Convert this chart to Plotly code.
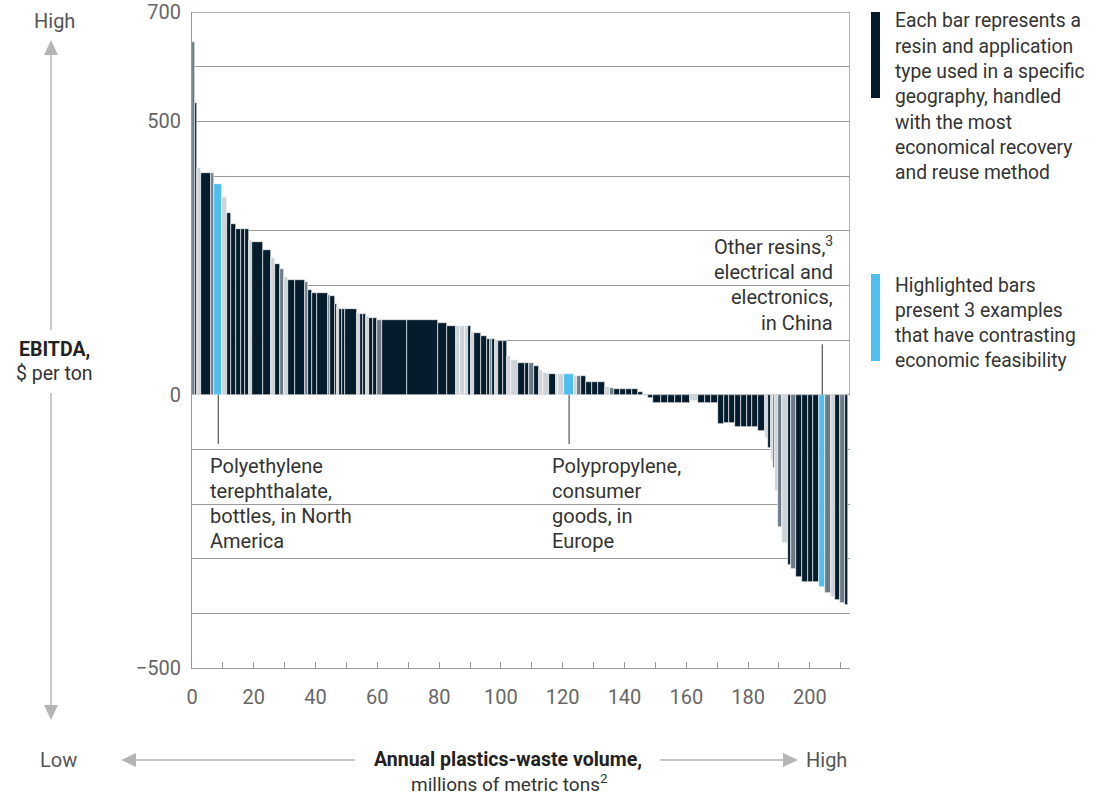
import numpy as np
import plotly.graph_objects as go

# Annual volume of each resin/application/geography segment, million metric tons
volume = [
    0.97, 0.65, 1.13, 3.40, 1.13, 2.43, 1.46, 1.55, 1.62, 1.36,
    1.36, 1.55, 0.97, 3.56, 2.52, 1.10, 1.88, 1.13, 1.29, 2.36,
    3.24, 1.04, 1.23, 1.62, 3.46, 0.81, 1.46, 0.81, 0.49, 1.04,
    0.91, 3.72, 1.04, 0.91, 1.13, 0.91, 1.29, 1.36, 1.46, 8.19,
    10.10, 2.91, 2.75, 1.46, 1.46, 1.13, 1.04, 0.91, 2.20, 1.84,
    0.97, 0.81, 0.97, 0.97, 1.46, 1.46, 1.13, 2.27, 2.27, 1.46,
    1.55, 1.52, 1.46, 1.94, 2.10, 0.81, 1.88, 3.40, 0.87, 1.29,
    1.62, 1.94, 1.94, 2.27, 1.62, 1.29, 1.94, 1.94, 1.94, 2.10,
    1.46, 1.62, 1.62, 2.59, 2.27, 2.27, 2.27, 2.59, 2.59, 2.27,
    1.94, 2.27, 1.94, 1.62, 1.94, 1.94, 1.78, 1.78, 1.84, 2.36,
    0.87, 1.07, 0.74, 0.55, 0.97, 1.20, 2.14, 0.87, 1.52, 2.14,
    1.84, 1.78, 1.94, 1.78, 1.94, 1.29, 1.62, 1.62, 0.97,
]

# EBITDA of each segment, $ per ton
ebitda = [
    645, 533, 414, 405, 405, 386, 362, 332, 312, 303,
    303, 303, 283, 279, 265, 250, 239, 230, 215, 210,
    210, 207, 192, 186, 186, 182, 180, 166, 160, 157,
    157, 157, 150, 147, 147, 143, 141, 141, 136, 136,
    136, 131, 126, 126, 126, 126, 126, 115, 113, 107,
    102, 102, 102, 100, 98, 98, 70, 63, 58, 58,
    58, 53, 45, 40, 38, 38, 38, 38, 34, 34,
    34, 24, 24, 24, 14, 12, 10, 10, 10, 10,
    4, -3, -6, -15, -15, -15, -15, -15, -12, -15,
    -15, -15, -53, -52, -52, -59, -59, -59, -59, -67,
    -80, -98, -120, -134, -177, -242, -272, -311, -318, -333,
    -342, -342, -342, -351, -363, -370, -375, -382, -385,
]

# Shade of each bar: d = dark, g = grey, l = light sliver, b = highlighted example
tone = [
    "g", "d", "l", "d", "g", "b", "l", "d", "d", "d",
    "d", "d", "l", "d", "d", "l", "d", "g", "l", "d",
    "d", "g", "d", "d", "d", "g", "d", "d", "l", "d",
    "d", "d", "l", "d", "d", "l", "d", "d", "g", "d",
    "d", "d", "d", "l", "l", "l", "d", "l", "d", "d",
    "d", "g", "d", "l", "d", "d", "l", "l", "d", "d",
    "g", "d", "l", "l", "d", "l", "l", "b", "l", "g",
    "d", "d", "d", "d", "l", "g", "d", "d", "d", "d",
    "d", "l", "d", "d", "d", "d", "d", "d", "l", "d",
    "d", "d", "d", "d", "d", "d", "d", "d", "d", "d",
    "l", "d", "l", "g", "l", "g", "l", "d", "g", "d",
    "d", "d", "d", "b", "g", "l", "d", "g", "d",
]

x_labels = list(range(0, 201, 20))
y_labels = [-500, 0, 500, 700]
y_label_text = ["\u2212500", "0", "500", "700"]

assert len(volume) == len(ebitda) == len(tone)

palette = {"d": "#051C2C", "g": "#6B7A86", "l": "#CDD3D8", "b": "#4FBFF0"}
DARK = "#051C2C"
BLUE = "#4FBFF0"
GRID = "#9A9A9A"
ARROW = "#B5B5B5"
FONT = "Roboto, Inter, sans-serif"

W, H = 1106, 795
L, R, T, B = 192, 850, 12, 668
X_MAX = 213


def px(xp):
    return (xp - L) / (R - L)


def py(yp):
    return (B - yp) / (B - T)


edges = np.concatenate([[0.0], np.cumsum(volume)])
centres = (edges[:-1] + edges[1:]) / 2
highlight = [c for c, t in zip(centres, tone) if t == "b"]

fig = go.Figure(
    go.Bar(
        x=centres,
        y=ebitda,
        width=volume,
        marker=dict(color=[palette[t] for t in tone], line=dict(color="white", width=0.6)),
        hoverinfo="skip",
    )
)

fig.update_layout(
    width=W,
    height=H,
    margin=dict(l=L, r=W - R, t=T, b=H - B, autoexpand=False),
    paper_bgcolor="white",
    plot_bgcolor="white",
    showlegend=False,
    bargap=0,
    font=dict(family=FONT, size=18, color="#333333"),
)

fig.update_xaxes(
    range=[0, X_MAX],
    automargin=False,
    tickvals=x_labels,
    ticktext=[str(v) for v in x_labels],
    ticks="inside",
    ticklen=6,
    tickcolor=GRID,
    minor=dict(dtick=10, tick0=0, ticks="inside", ticklen=6, tickcolor=GRID),
    showline=True,
    linecolor=GRID,
    linewidth=1,
    showgrid=False,
    zeroline=False,
    tickfont=dict(size=20, color="#666666"),
    ticklabelstandoff=11,
)
fig.update_yaxes(
    range=[-500, 700],
    automargin=False,
    tickvals=y_labels,
    ticktext=y_label_text,
    ticks="",
    showline=True,
    linecolor=GRID,
    linewidth=1,
    showgrid=True,
    gridcolor=GRID,
    gridwidth=1,
    minor=dict(dtick=100, tick0=0, showgrid=True, gridcolor=GRID, gridwidth=1, ticks=""),
    zeroline=True,
    zerolinecolor=GRID,
    zerolinewidth=1,
    tickfont=dict(size=20, color="#666666"),
    ticklabelstandoff=6,
)

shapes = []
# frame: top edge and right edge above zero
shapes.append(dict(type="line", xref="x", yref="y", x0=0, x1=X_MAX, y0=700, y1=700,
                   line=dict(color=GRID, width=1.5)))
shapes.append(dict(type="line", xref="x", yref="y", x0=X_MAX, x1=X_MAX, y0=0, y1=700,
                   line=dict(color=GRID, width=1.5)))

# callout leaders for highlighted bars
for c in highlight[:2]:
    shapes.append(dict(type="line", xref="x", yref="y", x0=c, x1=c, y0=0, y1=-90,
                       line=dict(color="#333333", width=1)))
shapes.append(dict(type="line", xref="x", yref="y", x0=highlight[2], x1=highlight[2], y0=0, y1=92,
                   line=dict(color="#333333", width=1)))

# legend swatches
shapes.append(dict(type="rect", xref="paper", yref="paper", x0=px(871), x1=px(880), y0=py(98), y1=py(12),
                   fillcolor=DARK, line=dict(width=0)))
shapes.append(dict(type="rect", xref="paper", yref="paper", x0=px(871), x1=px(880), y0=py(361), y1=py(274),
                   fillcolor=BLUE, line=dict(width=0)))

# vertical EBITDA arrow
shapes.append(dict(type="line", xref="paper", yref="paper", x0=px(51), x1=px(51), y0=py(55), y1=py(330),
                   line=dict(color=ARROW, width=1.5)))
shapes.append(dict(type="line", xref="paper", yref="paper", x0=px(51), x1=px(51), y0=py(393), y1=py(706),
                   line=dict(color=ARROW, width=1.5)))


def tri(points):
    path = "M " + " L ".join(f"{px(a)},{py(b)}" for a, b in points) + " Z"
    return dict(type="path", xref="paper", yref="paper", path=path, fillcolor=ARROW, line=dict(width=0))


shapes.append(tri([(51, 40), (44, 55), (58, 55)]))
shapes.append(tri([(51, 720), (44, 705), (58, 705)]))

# horizontal volume arrow
shapes.append(dict(type="line", xref="paper", yref="paper", x0=px(135), x1=px(355), y0=py(760), y1=py(760),
                   line=dict(color=ARROW, width=1.5)))
shapes.append(dict(type="line", xref="paper", yref="paper", x0=px(660), x1=px(785), y0=py(760), y1=py(760),
                   line=dict(color=ARROW, width=1.5)))
shapes.append(tri([(121, 760), (136, 753), (136, 767)]))
shapes.append(tri([(798, 760), (783, 753), (783, 767)]))

fig.update_layout(shapes=shapes)

ann = []


def text(s, xp, yp, anchor="left", size=18, color="#333333"):
    ann.append(dict(text=s, xref="paper", yref="paper", x=px(xp), y=py(yp), xanchor=anchor,
                    yanchor="middle", showarrow=False, font=dict(family=FONT, size=size, color=color)))


# axis captions
text("High", 54, 21, "center", 20, "#555555")
text("<b>EBITDA,</b>", 54, 349, "center", 19.5, "#222222")
text("$ per ton", 54, 373, "center", 19.5, "#333333")
text("Low", 58, 760, "center", 20, "#555555")
text("<b>Annual plastics-waste volume,</b>", 508, 760, "center", 19.5, "#222222")
text("millions of metric tons<sup>2</sup>", 509, 783, "center", 19, "#333333")
text("High", 826, 760, "center", 20, "#555555")

# legend
legend_a = ["Each bar represents a", "resin and application", "type used in a specific",
            "geography, handled", "with the most", "economical recovery", "and reuse method"]
for i, s in enumerate(legend_a):
    text(s, 893, 21 + i * 25.3, "left", 19.3, "#333333")
legend_b = ["Highlighted bars", "present 3 examples", "that have contrasting", "economic feasibility"]
for i, s in enumerate(legend_b):
    text(s, 893, 285 + i * 25.3, "left", 19.3, "#333333")

# callouts
pet = ["Polyethylene", "terephthalate,", "bottles, in North", "America"]
for i, s in enumerate(pet):
    text(s, 208, 466 + i * 25, "left", 20)
pp = ["Polypropylene,", "consumer", "goods, in", "Europe"]
for i, s in enumerate(pp):
    text(s, 550, 466 + i * 25, "left", 20)
china = ["Other resins,<sup>3</sup>", "electrical and", "electronics,", "in China"]
for i, s in enumerate(china):
    text(s, 835, 246 + i * 25.7, "right", 20)

fig.update_layout(annotations=ann)

fig.write_html("out.html")
